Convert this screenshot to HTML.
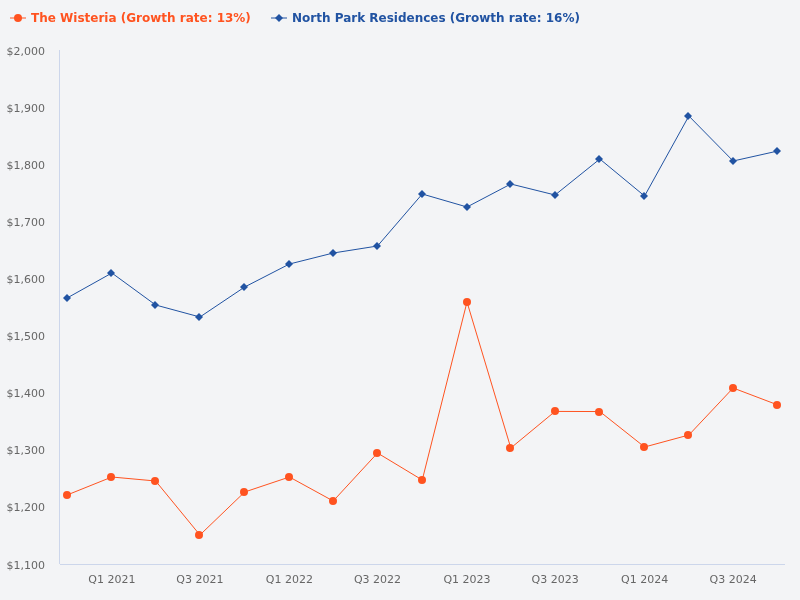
<!DOCTYPE html>
<html><head><meta charset="utf-8"><title>Chart</title>
<style>
html,body{margin:0;padding:0;background:#f3f4f6;}
body{width:800px;height:600px;overflow:hidden;}
svg{display:block;font-family:"DejaVu Sans","Liberation Sans",sans-serif;}
.ax{font-size:11px;fill:#666666;}
.lg{font-size:12px;font-weight:bold;}
</style></head><body>
<svg width="800" height="600" viewBox="0 0 800 600">
<rect x="0" y="0" width="800" height="600" fill="#f3f4f6"/>
<path d="M 59.5 50 L 59.5 564" stroke="#ccd6eb" stroke-width="1" fill="none"/>
<path d="M 60 564.5 L 785 564.5" stroke="#ccd6eb" stroke-width="1" fill="none"/>

<text class="ax" x="45" y="55" text-anchor="end">$2,000</text>
<text class="ax" x="45" y="112" text-anchor="end">$1,900</text>
<text class="ax" x="45" y="169" text-anchor="end">$1,800</text>
<text class="ax" x="45" y="226" text-anchor="end">$1,700</text>
<text class="ax" x="45" y="283" text-anchor="end">$1,600</text>
<text class="ax" x="45" y="340" text-anchor="end">$1,500</text>
<text class="ax" x="45" y="397" text-anchor="end">$1,400</text>
<text class="ax" x="45" y="454" text-anchor="end">$1,300</text>
<text class="ax" x="45" y="511" text-anchor="end">$1,200</text>
<text class="ax" x="45" y="569" text-anchor="end">$1,100</text>
<text class="ax" x="111.87" y="583" text-anchor="middle">Q1 2021</text>
<text class="ax" x="199.92" y="583" text-anchor="middle">Q3 2021</text>
<text class="ax" x="289.44" y="583" text-anchor="middle">Q1 2022</text>
<text class="ax" x="377.5" y="583" text-anchor="middle">Q3 2022</text>
<text class="ax" x="467.01" y="583" text-anchor="middle">Q1 2023</text>
<text class="ax" x="555.07" y="583" text-anchor="middle">Q3 2023</text>
<text class="ax" x="644.59" y="583" text-anchor="middle">Q1 2024</text>
<text class="ax" x="733.13" y="583" text-anchor="middle">Q3 2024</text>
<path d="M 67.11 298 L 111.87 273 L 155.65 305 L 199.92 317 L 244.68 287 L 289.44 264 L 333.22 253 L 377.5 246 L 422.25 194 L 467.01 207 L 510.8 184 L 555.07 195 L 599.83 159 L 644.59 196 L 688.86 116 L 733.13 161 L 777.89 151" stroke="#2153a2" stroke-width="1" fill="none" stroke-linejoin="round" stroke-linecap="round"/>
<path d="M 67 294 L 71 298 L 67 302 L 63 298 Z" fill="#2153a2"/>
<path d="M 111 269 L 115 273 L 111 277 L 107 273 Z" fill="#2153a2"/>
<path d="M 155 301 L 159 305 L 155 309 L 151 305 Z" fill="#2153a2"/>
<path d="M 199 313 L 203 317 L 199 321 L 195 317 Z" fill="#2153a2"/>
<path d="M 244 283 L 248 287 L 244 291 L 240 287 Z" fill="#2153a2"/>
<path d="M 289 260 L 293 264 L 289 268 L 285 264 Z" fill="#2153a2"/>
<path d="M 333 249 L 337 253 L 333 257 L 329 253 Z" fill="#2153a2"/>
<path d="M 377 242 L 381 246 L 377 250 L 373 246 Z" fill="#2153a2"/>
<path d="M 422 190 L 426 194 L 422 198 L 418 194 Z" fill="#2153a2"/>
<path d="M 467 203 L 471 207 L 467 211 L 463 207 Z" fill="#2153a2"/>
<path d="M 510 180 L 514 184 L 510 188 L 506 184 Z" fill="#2153a2"/>
<path d="M 555 191 L 559 195 L 555 199 L 551 195 Z" fill="#2153a2"/>
<path d="M 599 155 L 603 159 L 599 163 L 595 159 Z" fill="#2153a2"/>
<path d="M 644 192 L 648 196 L 644 200 L 640 196 Z" fill="#2153a2"/>
<path d="M 688 112 L 692 116 L 688 120 L 684 116 Z" fill="#2153a2"/>
<path d="M 733 157 L 737 161 L 733 165 L 729 161 Z" fill="#2153a2"/>
<path d="M 777 147 L 781 151 L 777 155 L 773 151 Z" fill="#2153a2"/>
<path d="M 67.11 495 L 111.87 477 L 155.65 481 L 199.92 535 L 244.68 492 L 289.44 477 L 333.22 501 L 377.5 453 L 422.25 480 L 467.01 302 L 510.8 448 L 555.07 411.42 L 599.83 411.55 L 644.59 447 L 688.86 435 L 733.13 388 L 777.89 405" stroke="#ff5320" stroke-width="1" fill="none" stroke-linejoin="round" stroke-linecap="round"/>
<circle cx="67" cy="495" r="4" fill="#ff5320"/>
<circle cx="111" cy="477" r="4" fill="#ff5320"/>
<circle cx="155" cy="481" r="4" fill="#ff5320"/>
<circle cx="199" cy="535" r="4" fill="#ff5320"/>
<circle cx="244" cy="492" r="4" fill="#ff5320"/>
<circle cx="289" cy="477" r="4" fill="#ff5320"/>
<circle cx="333" cy="501" r="4" fill="#ff5320"/>
<circle cx="377" cy="453" r="4" fill="#ff5320"/>
<circle cx="422" cy="480" r="4" fill="#ff5320"/>
<circle cx="467" cy="302" r="4" fill="#ff5320"/>
<circle cx="510" cy="448" r="4" fill="#ff5320"/>
<circle cx="555" cy="411" r="4" fill="#ff5320"/>
<circle cx="599" cy="412" r="4" fill="#ff5320"/>
<circle cx="644" cy="447" r="4" fill="#ff5320"/>
<circle cx="688" cy="435" r="4" fill="#ff5320"/>
<circle cx="733" cy="388" r="4" fill="#ff5320"/>
<circle cx="777" cy="405" r="4" fill="#ff5320"/>
<path d="M 10 18 L 26 18" stroke="#ff5320" stroke-width="1"/><circle cx="18" cy="18" r="4" fill="#ff5320"/>
<text class="lg" x="31" y="22" fill="#ff5320">The Wisteria (Growth rate: 13%)</text>
<path d="M 271 18 L 287 18" stroke="#2153a2" stroke-width="1"/><path d="M 279 14 L 283 18 L 279 22 L 275 18 Z" fill="#2153a2"/>
<text class="lg" x="292" y="22" fill="#2153a2">North Park Residences (Growth rate: 16%)</text>
</svg></body></html>
